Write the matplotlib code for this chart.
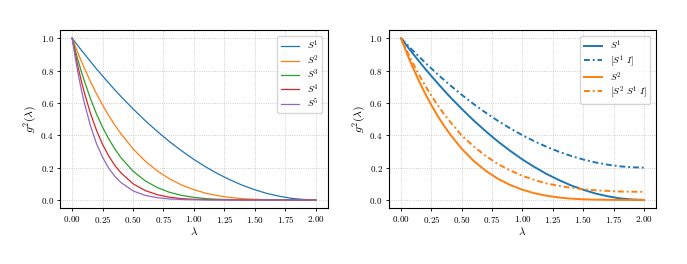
import matplotlib
matplotlib.use("Agg")
import matplotlib.pyplot as plt
import numpy as np

plt.rcParams['font.family'] = 'serif'
plt.rcParams['font.serif'] = ['cmr10', 'DejaVu Serif']
plt.rcParams['mathtext.fontset'] = 'cm'
plt.rcParams['axes.formatter.use_mathtext'] = True
plt.rcParams['font.size'] = 6.5

# lambda values where the curves were read
lam = [0, 0.025, 0.05, 0.075, 0.1, 0.15, 0.2, 0.25, 0.3, 0.35, 0.4, 0.5, 0.6, 0.7,
       0.8, 0.9, 1.0, 1.1, 1.2, 1.3, 1.4, 1.5, 1.6, 1.7, 1.8, 1.9, 2.0]

s1 = [1, .975, .951, .926, .903, .856, .81, .766, .723, .681, .64, .563, .49, .423,
      .36, .303, .25, .203, .16, .123, .09, .063, .04, .023, .01, .003, 0]
s2 = [1, .951, .904, .858, .815, .732, .656, .586, .522, .463, .41, .316, .24, .179,
      .13, .092, .063, .041, .026, .015, .008, .004, .002, .001, 0, 0, 0]
s3 = [1, .927, .860, .794, .736, .627, .531, .449, .378, .316, .262, .178, .118, .076,
      .047, .028, .016, .008, .004, .002, .001, 0, 0, 0, 0, 0, 0]
s4 = [1, .904, .817, .736, .664, .536, .430, .343, .272, .214, .168, .100, .058, .032,
      .017, .008, .004, .002, .001, 0, 0, 0, 0, 0, 0, 0, 0]
s5 = [1, .881, .777, .682, .600, .459, .348, .263, .197, .146, .108, .056, .028, .014,
      .006, .003, .001, 0, 0, 0, 0, 0, 0, 0, 0, 0, 0]

s1_i = [1, .98, .961, .941, .922, .885, .848, .813, .778, .745, .712, .650, .592, .538,
        .488, .442, .40, .362, .328, .298, .272, .250, .232, .218, .208, .202, .20]
s2_s1_i = [1, .958, .918, .879, .843, .771, .706, .645, .588, .535, .488, .398, .330, .271,
           .221, .182, .149, .123, .102, .087, .075, .066, .060, .056, .052, .051, .05]

left_curves = [s1, s2, s3, s4, s5]
left_labels = ['$S^1$', '$S^2$', '$S^3$', '$S^4$', '$S^5$']

fig = plt.figure(figsize=(6.87, 2.64), dpi=100)
ax1 = fig.add_axes([0.0873, 0.212, 0.390, 0.674])
ax2 = fig.add_axes([0.566, 0.212, 0.389, 0.674])

for vals, lab in zip(left_curves, left_labels):
    ax1.plot(lam, vals, lw=0.9, label=lab)

dd = (3, 1.5, 1, 1.5)
ax2.plot(lam, s1, color='C0', lw=1.4, label='$S^1$')
ax2.plot(lam, s1_i, color='C0', lw=1.4, dashes=dd, label='$[S^1\\ I]$')
ax2.plot(lam, s2, color='C1', lw=1.4, label='$S^2$')
ax2.plot(lam, s2_s1_i, color='C1', lw=1.4, dashes=dd, label='$[S^2\\ S^1\\ I]$')

for ax in (ax1, ax2):
    ax.set_xticks(np.arange(0, 2.01, 0.25))
    ax.set_yticks(np.arange(0, 1.01, 0.2))
    ax.grid(True, ls=':', color='#c0c0c0', lw=0.6)
    ax.set_xlabel('$\\lambda$', fontsize=8, labelpad=0)
    ax.set_ylabel('$g^2(\\lambda)$', fontsize=8.5, labelpad=1)
    ax.tick_params(length=2.5, width=0.6, pad=2)
    for sp in ax.spines.values():
        sp.set_linewidth(0.8)
    ax.legend(loc='upper right', fontsize=6.8, handlelength=2.0, borderaxespad=0.6,
              labelspacing=0.1, handletextpad=0.8, borderpad=0.35)

fig.savefig('out.png', dpi=100)
